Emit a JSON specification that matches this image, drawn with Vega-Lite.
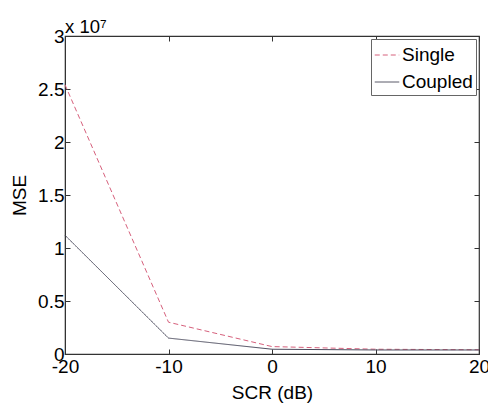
{
  "$schema": "https://vega.github.io/schema/vega-lite/v6.json",
  "width": 414,
  "height": 318,
  "autosize": {"type": "none"},
  "padding": {"left": 65, "top": 36, "right": 9, "bottom": 51},
  "title": {"text": "x 10⁷", "anchor": "start", "frame": "group", "offset": -9, "fontSize": 18.5, "fontWeight": "normal", "font": "Liberation Sans", "color": "#000"},
  "config": {
    "font": "Liberation Sans",
    "view": {"stroke": "#333", "strokeWidth": 1.2},
    "axis": {"grid": false, "domainColor": "#333", "tickColor": "#333", "labelColor": "#000", "titleColor": "#000", "labelFontSize": 19, "titleFontSize": 19, "titleFontWeight": "normal", "tickSize": -5, "labelPadding": 8, "labelFlush": false, "labelOverlap": false}
  },
  "data": {"values": [
    {"scr": -20, "mse": 25400000, "method": "Single"},
    {"scr": -10, "mse": 3000000, "method": "Single"},
    {"scr": 0, "mse": 700000, "method": "Single"},
    {"scr": 10, "mse": 450000, "method": "Single"},
    {"scr": 20, "mse": 400000, "method": "Single"},
    {"scr": -20, "mse": 11200000, "method": "Coupled"},
    {"scr": -10, "mse": 1500000, "method": "Coupled"},
    {"scr": 0, "mse": 450000, "method": "Coupled"},
    {"scr": 10, "mse": 380000, "method": "Coupled"},
    {"scr": 20, "mse": 380000, "method": "Coupled"}
  ]},
  "layer": [
    {
      "mark": {"type": "line", "strokeWidth": 1},
      "encoding": {
        "x": {"field": "scr", "type": "quantitative", "scale": {"domain": [-20, 20], "nice": false}, "axis": {"values": [-20, -10, 0, 10, 20], "labelExpr": "'' + datum.value", "title": "SCR (dB)", "titlePadding": 7}},
        "y": {"field": "mse", "type": "quantitative", "scale": {"domain": [0, 30000000], "nice": false}, "axis": {"values": [0, 5000000, 10000000, 15000000, 20000000, 25000000, 30000000], "labelExpr": "'' + (datum.value/1e7)", "labelPadding": 6, "title": "MSE", "titlePadding": 8}},
        "color": {"field": "method", "type": "nominal", "scale": {"domain": ["Single", "Coupled"], "range": ["#d6607c", "#4a4a5c"]}, "legend": {"title": null, "orient": "top-right", "offset": 3, "fillColor": "white", "strokeColor": "#666", "padding": 3, "labelFontSize": 19, "symbolType": "stroke", "symbolSize": 600, "symbolStrokeWidth": 1, "rowPadding": 4, "labelOffset": 2}},
        "strokeDash": {"field": "method", "type": "nominal", "scale": {"domain": ["Single", "Coupled"], "range": [[5, 3], [1, 0]]}, "legend": null}
      }
    },
    {
      "mark": {"type": "line", "opacity": 0},
      "encoding": {
        "x": {"field": "scr", "type": "quantitative", "scale": {"domain": [-20, 20], "nice": false}, "axis": {"orient": "top", "values": [-20, -10, 0, 10, 20], "labels": false, "title": null, "domain": false}},
        "y": {"field": "mse", "type": "quantitative", "scale": {"domain": [0, 30000000], "nice": false}, "axis": {"orient": "right", "values": [0, 5000000, 10000000, 15000000, 20000000, 25000000, 30000000], "labels": false, "title": null, "domain": false}}
      }
    }
  ],
  "resolve": {"axis": {"x": "independent", "y": "independent"}}
}
